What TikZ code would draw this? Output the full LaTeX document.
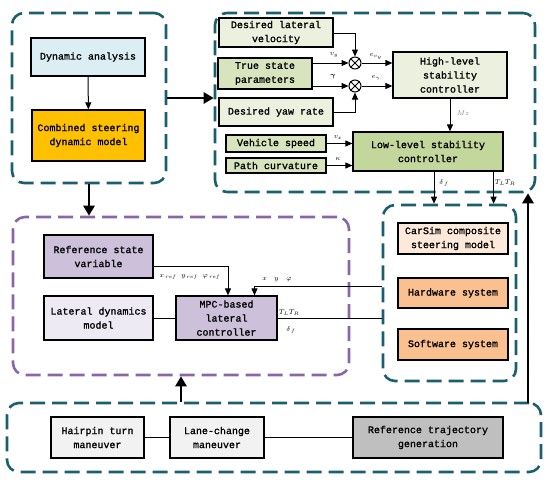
\documentclass[tikz,border=0pt]{standalone}
\usepackage{fontspec}
\usepackage{amsmath}
\usetikzlibrary{arrows.meta}
\newfontfamily\boxfont[FakeBold=1.2]{Liberation Mono}

\definecolor{grpteal}{HTML}{1B5F6F}
\definecolor{grppurple}{HTML}{8A66A8}
\definecolor{cyanbox}{HTML}{DAEEF3}
\definecolor{goldbox}{HTML}{FFC000}
\definecolor{greenlight}{HTML}{EBF1DE}
\definecolor{greenmid}{HTML}{D7E4BD}
\definecolor{greendark}{HTML}{C3D69B}
\definecolor{lilac}{HTML}{CCC0DA}
\definecolor{lilaclight}{HTML}{EEEAF3}
\definecolor{peachlight}{HTML}{FDE9D9}
\definecolor{peach}{HTML}{FAC090}
\definecolor{greylight}{HTML}{F2F2F2}
\definecolor{greydark}{HTML}{BFBFBF}

\tikzset{
  box/.style = {draw, line width=1.2pt, align=center, inner sep=0pt,
                font=\boxfont\fontsize{10}{14}\selectfont},
  grp/.style = {draw=grpteal, line width=2.6pt, dash pattern=on 15pt off 7pt,
                rounded corners=12pt, inner sep=0pt},
  sum/.style = {draw, line width=1pt, circle, minimum size=12pt, inner sep=0pt},
  link/.style = {line width=1pt, -{Triangle[length=7pt,width=6pt]}},
  bigarrow/.style = {line width=2.8pt, -{Triangle[length=10pt,width=11pt]}},
  lbl/.style = {font=\fontsize{7.5}{8}\selectfont, inner sep=0pt}
}

\begin{document}
\begin{tikzpicture}[x=1pt, y=-1pt]
\useasboundingbox (0,0) rectangle (550,485);

% groups
\node[grp, minimum width=154pt, minimum height=170pt] (g1) at (89,98) {};
\node[grp, minimum width=320pt, minimum height=179pt] (g2) at (375,102.5) {};
\node[grp, draw=grppurple, minimum width=336pt, minimum height=158pt] (g3) at (181,296) {};
\node[grp, minimum width=133pt, minimum height=176pt] (g4) at (449.5,293) {};
\node[grp, minimum width=534pt, minimum height=69pt] (g5) at (274,437.5) {};

% dynamics
\node[box, fill=cyanbox, minimum width=114pt, minimum height=38pt] (dyn) at (88,57) {Dynamic analysis};
\node[box, fill=goldbox, minimum width=113pt, minimum height=51pt] (comb) at (88.5,135.5) {Combined steering\\dynamic model};
\draw[link] (dyn) -- (comb);

% stability control
\node[box, fill=greenlight, minimum width=114pt, minimum height=29pt] (dlv) at (276,32.5) {Desired lateral\\velocity};
\node[box, fill=greenmid, minimum width=94pt, minimum height=31pt] (tsp) at (265,73.5) {True state\\parameters};
\node[box, fill=greenlight, minimum width=114pt, minimum height=28pt] (dyr) at (276,112) {Desired yaw rate};
\node[sum] (s1) at (355,63) {};
\node[sum] (s2) at (355,86) {};
\draw[line width=1pt] (s1.45) -- (s1.225) (s1.135) -- (s1.315);
\draw[line width=1pt] (s2.45) -- (s2.225) (s2.135) -- (s2.315);
\node[box, fill=greenlight, minimum width=114pt, minimum height=46pt] (hlc) at (450,75) {High-level\\stability\\controller};
\node[box, fill=greenmid, minimum width=100pt, minimum height=17pt] (vsp) at (276,143.5) {Vehicle speed};
\node[box, fill=greenmid, minimum width=100pt, minimum height=15pt] (pcv) at (276,165.5) {Path curvature};
\node[box, fill=greendark, minimum width=150pt, minimum height=39pt] (llc) at (428,151.5) {Low-level stability\\controller};

\draw[link] (dlv.east |- 0,33) -| (s1);
\draw[link] (tsp.east |- s1) -- (s1);
\draw[link] (tsp.east |- s2) -- (s2);
\draw[link] (dyr) -| (s2);
\draw[link] (s1) -- (s1 -| hlc.west);
\draw[link] (s2) -- (s2 -| hlc.west);
\draw[link] (hlc) -- (hlc |- llc.north);
\draw[link] (vsp) -- (vsp -| llc.west);
\draw[link] (pcv) -- (pcv -| llc.west);
\draw[link] ([xshift=6pt]llc.south) -- ([xshift=6pt]llc.south |- g4.north);
\draw[link] ([xshift=-10pt]llc.south east) -- ([xshift=-10pt]llc.south east |- g4.north);

\node[lbl] at (334,55) {$v_y$};
\node[lbl] at (333,77) {$\boldsymbol{\gamma}$};
\node[lbl] at (376,56) {$e_{v_y}$};
\node[lbl] at (376,78) {$e_{\gamma}$};
\node[lbl, text=gray] at (463,113) {$Mz$};
\node[lbl] at (338,137) {$v_x$};
\node[lbl] at (338,159) {$\kappa$};
\node[lbl] at (444,183) {$\delta_{\,f}$};
\node[lbl] at (505,183) {$T_L T_R$};

% CarSim
\node[box, fill=peachlight, minimum width=110pt, minimum height=31pt] (carsim) at (453,238.5) {CarSim composite\\steering model};
\node[box, fill=peach, minimum width=110pt, minimum height=30pt] (hw) at (453,293) {Hardware system};
\node[box, fill=peach, minimum width=110pt, minimum height=31pt] (sw) at (453,344.5) {Software system};

% MPC
\node[box, fill=lilac, minimum width=109pt, minimum height=43pt] (rsv) at (98.5,256.5) {Reference state\\variable};
\node[box, fill=lilaclight, minimum width=109pt, minimum height=44pt] (ldm) at (98.5,318) {Lateral dynamics\\model};
\node[box, fill=lilac, minimum width=101pt, minimum height=44pt] (mpc) at (226.5,318) {MPC-based\\lateral\\controller};

\draw[link] (rsv.east |- 0,266) -| ([xshift=1.5pt]mpc.north);
\draw[link] (g4.west |- 0,286) -| ([xshift=28pt]mpc.north);
\draw[line width=1pt] (ldm) -- (mpc);
\draw[line width=1pt] (mpc) -- (mpc -| g4.west);

\node[lbl] at (190,277) {$x_{\,ref}\;\;y_{\,ref}\;\;\varphi_{\,ref}$};
\node[lbl] at (277,280) {$x\quad y\quad \varphi$};
\node[lbl] at (289,313) {$T_L T_R$};
\node[lbl] at (291,330) {$\delta_{\,f}$};

% trajectory
\node[box, fill=greylight, minimum width=93pt, minimum height=41pt] (hpt) at (97.5,437.5) {Hairpin turn\\maneuver};
\node[box, fill=greylight, minimum width=94pt, minimum height=41pt] (lcm) at (217,437.5) {Lane-change\\maneuver};
\node[box, fill=greydark, minimum width=150pt, minimum height=41pt] (rtg) at (428,437.5) {Reference trajectory\\generation};
\draw[line width=1pt] (hpt) -- (lcm);
\draw[line width=1pt] (lcm) -- (rtg);

% group links
\coordinate (up) at (528,403);
\draw[bigarrow] (g1.east) -- (g1.east -| g2.west);
\draw[bigarrow] (g1.south) -- (g1.south |- g3.north);
\draw[bigarrow] (g3.south |- g5.north) -- (g3.south);
\draw[bigarrow] (up) -- (up |- g2.south);
\end{tikzpicture}
\end{document}
